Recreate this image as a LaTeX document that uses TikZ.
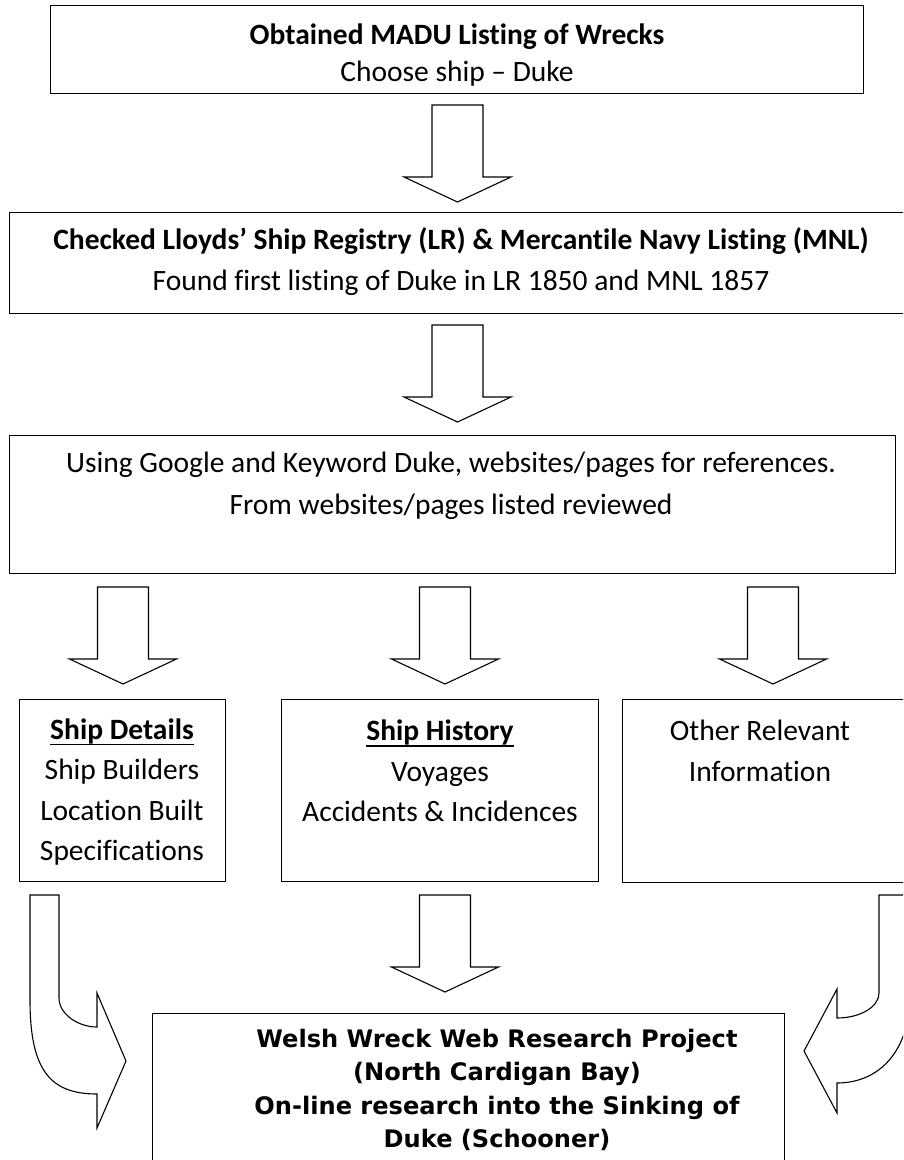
\documentclass[tikz,border=0pt]{standalone}
\usepackage{fontspec}
\setmainfont[Ligatures=NoCommon]{Carlito}
\newfontfamily\verdfont{DejaVu Sans}
\newcommand\myul[1]{\setbox0=\hbox{#1}\leavevmode\rlap{\rule[-6pt]{\wd0}{1.7pt}}\box0}
\begin{document}
\begin{tikzpicture}[x=1pt,y=-1pt,
  box/.style={draw=black, line width=1.1pt, rectangle, inner sep=0pt, anchor=north west},
  blk/.style={draw=black, line width=1.1pt, fill=white, line join=miter},
  txt/.style={align=center, inner sep=0pt, font=\fontsize{29.5}{40.5}\selectfont},
  btxt/.style={align=center, inner sep=0pt, font=\verdfont\bfseries\fontsize{24.1}{33.3}\selectfont},
  downarr/.pic={\draw[blk] (-25.5,0) -- (25.5,0) -- (25.5,72) -- (53.5,72) -- (0,97) -- (-53.5,72) -- (-25.5,72) -- cycle;}]
\path[use as bounding box, fill=white] (0,0) rectangle (903,1160);
\clip (0,0) rectangle (903,1160);

% boxes
\node[box, minimum width=813pt, minimum height=88pt] (b1) at (50,5) {};
\node[box, minimum width=900pt, minimum height=101pt] (b2) at (9,212) {};
\node[box, minimum width=886pt, minimum height=138pt] (b3) at (9,435) {};
\node[box, minimum width=206pt, minimum height=182pt] (b4) at (19,699) {};
\node[box, minimum width=317pt, minimum height=182pt] (b5) at (281,699) {};
\node[box, minimum width=290pt, minimum height=183pt] (b6) at (622,699) {};
\node[box, minimum width=632pt, minimum height=200pt] (b7) at (152,1013) {};

% texts
\node[txt, font=\fontsize{29.5}{37.5}\selectfont] (t1) at (457,55) {\textbf{Obtained MADU Listing of Wrecks}\\Choose ship – Duke};
\node[txt, font=\fontsize{29.5}{41}\selectfont] (t2) at (461,262) {\textbf{Checked Lloyds’ Ship Registry (LR) \& Mercantile Navy Listing (MNL)}\\Found first listing of Duke in LR 1850 and MNL 1857};
\node[txt, font=\fontsize{29.5}{42}\selectfont] (t3) at (451,486) {Using Google and Keyword Duke, websites/pages for references.\\From websites/pages listed reviewed};
\node[txt] (t4) at (122,792) {\myul{\textbf{Ship Details}}\\Ship Builders\\Location Built\\Specifications};
\node[txt] (t5) at (440,771) {\myul{\textbf{Ship History}}\\Voyages\\Accidents \& Incidences};
\node[txt] (t6) at (760,751) {Other Relevant\\Information};
\node[btxt] (t7) at (497,1090) {Welsh Wreck Web Research Project\\(North Cardigan Bay)\\On-line research into the Sinking of\\Duke (Schooner)};

% straight block arrows
\pic (a1) at (457.5,105) {downarr};
\pic (a2) at (457.5,325) {downarr};
\pic (a3) at (123,587) {downarr};
\pic (a4) at (445,587) {downarr};
\pic (a5) at (773,587) {downarr};
\pic (a6) at (445,895) {downarr};

% curved block arrows
\draw[blk] (30,895) -- (59,895) -- (59,998) .. controls (59,1014) and (78,1027) .. (97,1027)
  -- (97,993) -- (126,1061) -- (97,1128) -- (97,1094)
  .. controls (50,1094) and (30,1070) .. (30,1000) -- cycle;
\draw[blk] (879,895) -- (910,895) -- (910,995) .. controls (910,1050) and (880,1083) .. (837,1083)
  -- (837,1113) -- (804,1051) -- (837,989) -- (837,1018)
  .. controls (860,1018) and (879,1007) .. (879,993) -- cycle;
\end{tikzpicture}
\end{document}
